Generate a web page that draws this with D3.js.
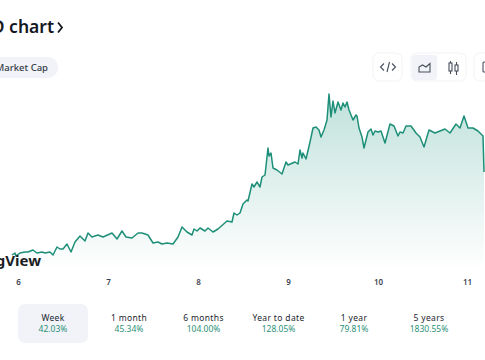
<!DOCTYPE html>
<html><head><meta charset="utf-8">
<script src="https://d3js.org/d3.v7.min.js"></script>
<style>html,body{margin:0;padding:0;background:#fff;overflow:hidden}svg{display:block}text{font-family:"Noto Sans",sans-serif}</style>
</head><body><svg id="c" width="485" height="360"></svg>
<script>
// time in samples (90 per day), value in index units
const times=[-6,-3,-2,2,7,10,15,19,24,27,32,35,39,42,45,49,53,57,62,67,70,74,80,85,94,99,104,108,114,120,124,130,135,140,144,149,155,160,164,169,174,176,179,182,187,190,195,200,209,214,216,219,222,225,229,230,234,236,239,242,244,247,250,251,253,255,259,264,268,270,277,280,282,284,285,288,292,295,298,301,303,306,309,311,313,315,317,320,323,325,327,329,331,335,338,339,341,344,346,350,353,355,357,360,363,367,372,376,380,382,385,388,393,398,402,406,411,417,422,427,432,438,442,446,450,455,460,465,466];
const values=[15,17,14,17,18,18,20,17,18,17,18,15,23,21,21,26,18,28,34,29,37,33,35,33,37,31,39,33,32,37,37,35,27,28,26,27,26,33,43,38,35,41,39,42,39,42,38,41,49,48,57,55,57,66,70,69,86,83,88,83,93,95,122,114,117,102,100,96,108,105,108,106,120,112,117,111,128,142,143,140,133,140,150,176,153,169,157,168,160,167,163,168,160,150,155,154,142,133,122,138,141,135,139,138,139,127,146,144,134,138,137,144,144,137,133,123,140,137,139,141,137,146,142,154,142,142,139,134,98];
const dayTicks=[0,90,180,270,360,449];
const dayLabels=["6","7","8","9","10","11"];
const tabNames=["Week","1 month","6 months","Year to date","1 year","5 years"];
const tabChanges=["42.03%","45.34%","104.00%","128.05%","79.81%","1830.55%"];
const tabCenters=[53,129,203.5,278.500,354,429];

const svg=d3.select("#c");
const pts=times.map((t,i)=>({t,v:values[i]}));
const x=d3.scaleLinear().domain([0,450]).range([18,468]);
const y=d3.scaleLinear().domain([0,180]).range([270,90]);
const defs=svg.append("defs");
const g=defs.append("linearGradient").attr("id","fade").attr("x1",0).attr("y1",0).attr("x2",0).attr("y2",1);
g.append("stop").attr("offset",0).attr("stop-color","#16917a").attr("stop-opacity",.27);
g.append("stop").attr("offset",1).attr("stop-color","#16917a").attr("stop-opacity",0);
const plot=svg.append("g");
plot.append("path").datum(pts).attr("fill","url(#fade)")
 .attr("d",d3.area().x(d=>x(d.t)).y0(y(0)).y1(d=>y(d.v)));
plot.append("path").datum(pts).attr("fill","none").attr("stroke","#1d8f78").attr("stroke-width",1.5).attr("stroke-linejoin","round")
 .attr("d",d3.line().x(d=>x(d.t)).y(d=>y(d.v)));

// x axis
const ax=svg.append("g").attr("transform","translate(0,274)")
 .call(d3.axisBottom(x).tickValues(dayTicks).tickFormat((d,i)=>dayLabels[i]).tickSize(0).tickPadding(5));
ax.select(".domain").remove();
ax.selectAll("text").attr("font-size",8).attr("font-weight",600).attr("fill","#3b4250").style("font-family","'Noto Sans',sans-serif");

// title, pill, logo
svg.append("text").attr("x",54).attr("y",33).attr("text-anchor","end").attr("font-size",17.5).attr("font-weight",600).attr("fill","#14171f").text("D chart");
svg.append("path").attr("d","M58 22.500l4 5-4 5").attr("fill","none").attr("stroke","#14171f").attr("stroke-width",1.8);
svg.append("rect").attr("x",-20).attr("y",57).attr("width",78).attr("height",21).attr("rx",10).attr("fill","#f1f3f8");
svg.append("text").attr("x",48).attr("y",71).attr("text-anchor","end").attr("font-size",9.5).attr("font-weight",500).attr("fill","#333a47").text("Market Cap");
svg.append("text").attr("x",41).attr("y",266).attr("text-anchor","end").attr("font-size",15).attr("font-weight",700).attr("fill","#1b1d22").text("TradingView");

// toolbar
const bx=svg.append("g").attr("fill","none").attr("stroke","#f2f3f6");
bx.append("rect").attr("x",373).attr("y",53).attr("width",29).attr("height",28).attr("rx",6);
bx.append("rect").attr("x",411).attr("y",53).attr("width",55).attr("height",28).attr("rx",6);
bx.append("rect").attr("x",474).attr("y",53).attr("width",29).attr("height",28).attr("rx",6);
svg.append("rect").attr("x",412).attr("y",55).attr("width",25).attr("height",25).attr("rx",3).attr("fill","#f1f3f8");
const ic=svg.append("g").attr("fill","none").attr("stroke","#474e5c").attr("stroke-width",1.1);
ic.append("path").attr("d","M384 63.500l-3.500 3.500 3.500 3.500M392 63.500l3.500 3.500-3.500 3.500M389.500 62l-2.500 10");
ic.append("path").attr("d","M419 72v-5l3.500-2 3.500 2 4-3.500v8.500h-11z");
ic.append("path").attr("d","M450.500 61v13M456.500 62v13");
ic.append("rect").attr("x",449).attr("y",63).attr("width",3).attr("height",8).attr("fill","#fff");
ic.append("rect").attr("x",455).attr("y",65).attr("width",3).attr("height",6).attr("fill","#fff");
ic.append("path").attr("d","M486 62h-2q-1 0-1 1v8q0 1 1 1h2");

// tabs
svg.append("rect").attr("x",18).attr("y",304).attr("width",70).attr("height",39).attr("rx",7).attr("fill","#f1f3f8");
const tabs=svg.selectAll("g.tab").data(tabNames).join("g").attr("class","tab")
 .attr("transform",(d,i)=>`translate(${tabCenters[i]},0)`).attr("text-anchor","middle").attr("font-size",8.5);
tabs.append("text").attr("y",321).attr("fill","#22262e").attr("letter-spacing",.35).text(d=>d);
tabs.append("text").attr("y",332).attr("fill","#2b9078").text((d,i)=>tabChanges[i]);
</script></body></html>
